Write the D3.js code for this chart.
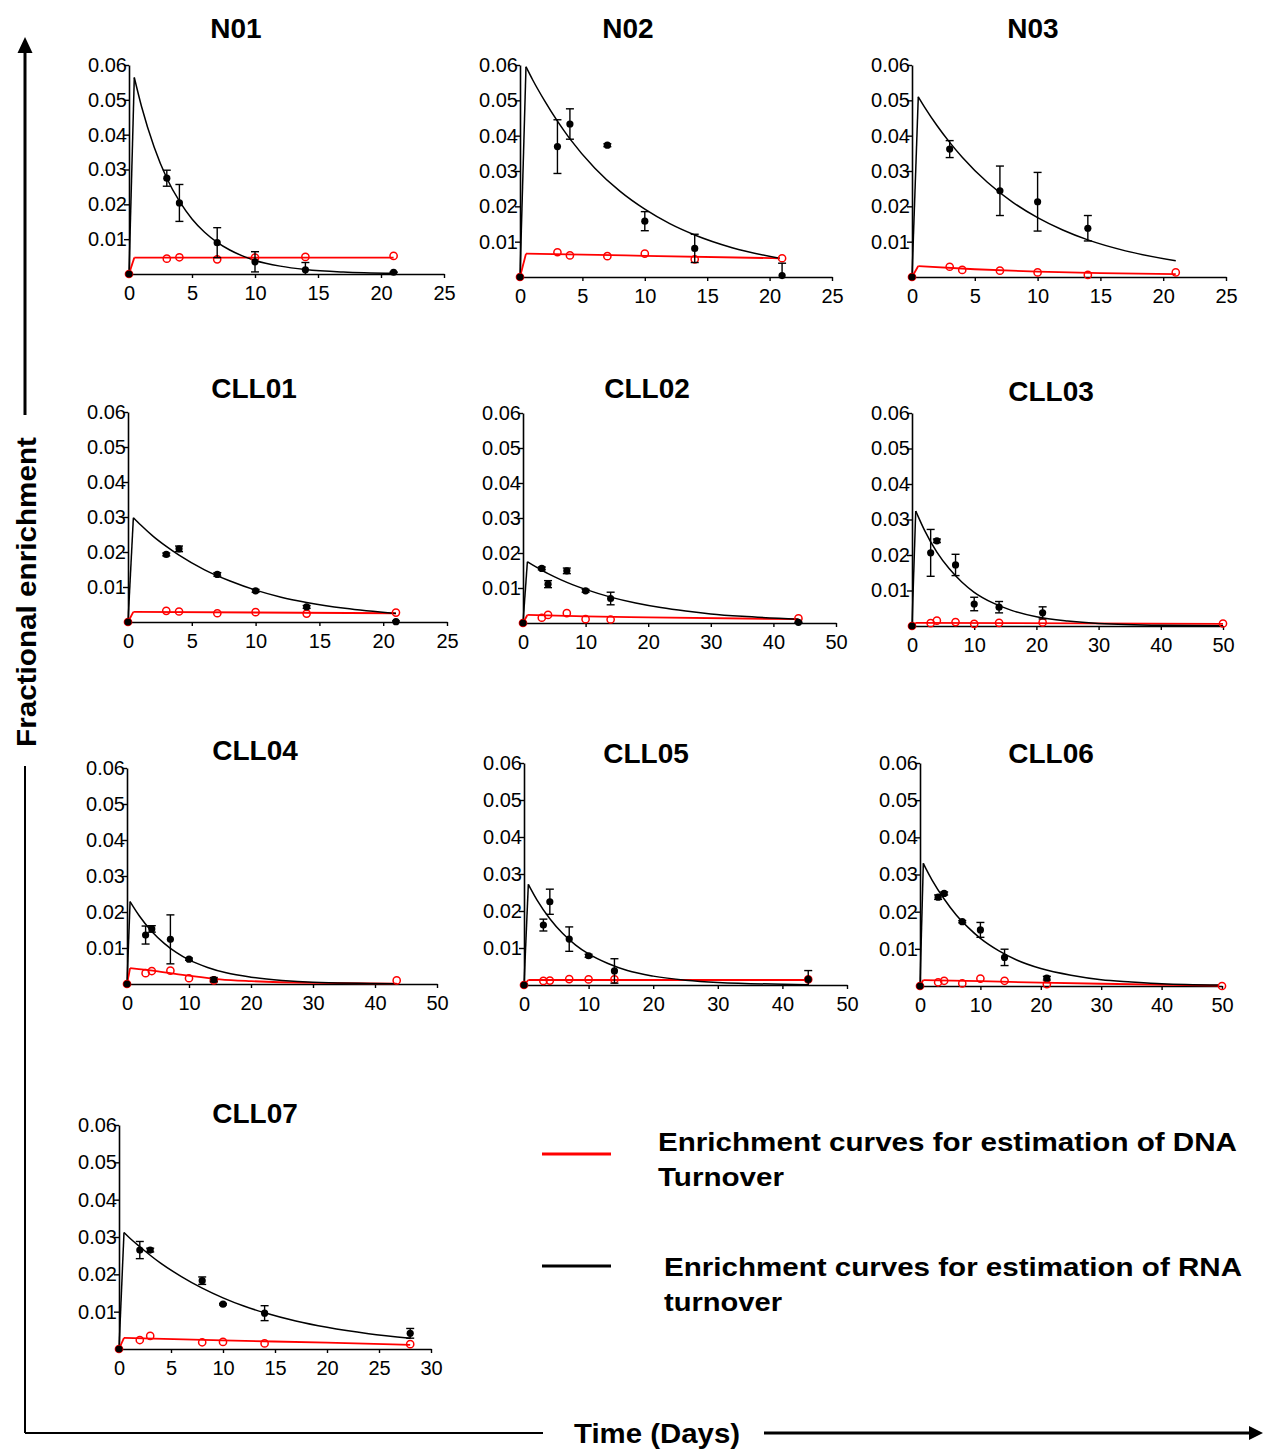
<!DOCTYPE html>
<html>
<head>
<meta charset="utf-8">
<script src="https://cdn.jsdelivr.net/npm/d3@7"></script>
<style>
  body { margin: 0; background: #fff; }
  svg { display: block; }
</style>
</head>
<body>
<svg id="chart" width="1263" height="1449"></svg>
<script>
// ---- Data: one entry per subject panel ----
const panelNames = ["N01", "N02", "N03", "CLL01", "CLL02", "CLL03", "CLL04", "CLL05", "CLL06", "CLL07"];
const xMaxima = [25, 25, 25, 25, 50, 50, 50, 50, 50, 30];
const xSteps  = [5, 5, 5, 5, 10, 10, 10, 10, 10, 5];
const yTicks = [0.01, 0.02, 0.03, 0.04, 0.05, 0.06];

// RNA (black) measured enrichment: days, mean, SD
const rnaDays = [
  [0, 3, 4, 7, 10, 14, 21],
  [0, 3, 4, 7, 10, 14, 21],
  [0, 3, 7, 10, 14],
  [0, 3, 4, 7, 10, 14, 21],
  [0, 3, 4, 7, 10, 14, 44],
  [0, 3, 4, 7, 10, 14, 21],
  [0, 3, 4, 7, 10, 14],
  [0, 3, 4, 7, 10, 14, 44],
  [0, 3, 4, 7, 10, 14, 21],
  [0, 2, 3, 8, 10, 14, 28]
];
const rnaMeans = [
  [0, 0.0275, 0.0204, 0.0090, 0.0035, 0.0012, 0.0005],
  [0, 0.0369, 0.0433, 0.0373, 0.0158, 0.0081, 0.0004],
  [0, 0.0362, 0.0244, 0.0213, 0.0138],
  [0, 0.0193, 0.0209, 0.0136, 0.0089, 0.0043, 0.0001],
  [0, 0.0156, 0.0111, 0.0149, 0.0092, 0.0070, 0.0002],
  [0, 0.0206, 0.0240, 0.0172, 0.0062, 0.0053, 0.0037],
  [0, 0.0136, 0.0153, 0.0124, 0.0069, 0.0012],
  [0, 0.0162, 0.0225, 0.0124, 0.0079, 0.0038, 0.0015],
  [0, 0.0239, 0.0249, 0.0173, 0.0151, 0.0077, 0.0021],
  [0, 0.0265, 0.0265, 0.0183, 0.0120, 0.0096, 0.0042]
];
const rnaSDs = [
  [0, 0.0023, 0.0053, 0.0043, 0.0029, 0.0021, 0.0001],
  [0, 0.0076, 0.0043, 0.0004, 0.0027, 0.0040, 0.0035],
  [0, 0.0024, 0.0070, 0.0083, 0.0036],
  [0, 0.0004, 0.0008, 0.0005, 0.0004, 0.0004, 0.0002],
  [0, 0.0004, 0.0010, 0.0008, 0.0004, 0.0018, 0.0001],
  [0, 0.0066, 0.0005, 0.0030, 0.0019, 0.0016, 0.0017],
  [0, 0.0025, 0.0009, 0.0068, 0.0003, 0.0006],
  [0, 0.0016, 0.0034, 0.0033, 0.0004, 0.0033, 0.0024],
  [0, 0.0006, 0.0004, 0.0003, 0.0020, 0.0022, 0.0005],
  [0, 0.0023, 0.0005, 0.0010, 0.0002, 0.0020, 0.0013]
];

// DNA (red) measured enrichment: days, mean
const dnaDays = [
  [0, 3, 4, 7, 10, 14, 21],
  [0, 3, 4, 7, 10, 14, 21],
  [0, 3, 4, 7, 10, 14, 21],
  [0, 3, 4, 7, 10, 14, 21],
  [0, 3, 4, 7, 10, 14, 44],
  [0, 3, 4, 7, 10, 14, 21, 50],
  [0, 3, 4, 7, 10, 14, 43.5],
  [0, 3, 4, 7, 10, 14, 44],
  [0, 3, 4, 7, 10, 14, 21, 50],
  [0, 2, 3, 8, 10, 14, 28]
];
const dnaMeans = [
  [0, 0.0044, 0.0048, 0.0042, 0.0047, 0.0049, 0.0052],
  [0, 0.0070, 0.0061, 0.0059, 0.0066, 0.0050, 0.0053],
  [0, 0.0029, 0.0020, 0.0018, 0.0013, 0.0006, 0.0013],
  [0, 0.0032, 0.0030, 0.0025, 0.0028, 0.0024, 0.0027],
  [0, 0.0015, 0.0023, 0.0028, 0.0011, 0.0010, 0.0013],
  [0, 0.0008, 0.0015, 0.0011, 0.0006, 0.0009, 0.0010, 0.0007],
  [0, 0.0030, 0.0036, 0.0037, 0.0016, 0.0010, 0.0010],
  [0, 0.0011, 0.0012, 0.0016, 0.0015, 0.0015, 0.0015],
  [0, 0.0010, 0.0014, 0.0007, 0.0020, 0.0014, 0.0005, 0.0000],
  [0, 0.0024, 0.0035, 0.0018, 0.0019, 0.0015, 0.0013]
];

// Fitted RNA enrichment curves (black): days, value
const rnaCurveDays = [
  [0, 0.42, 1, 2, 3, 4, 5, 6, 7, 8, 9, 10, 12, 14, 17, 21],
  [0, 0.48, 1, 2, 3, 4, 6, 8, 10, 12, 14, 17, 20.8],
  [0, 0.5, 1, 2, 3, 4, 6, 8, 10, 12, 14, 17, 21],
  [0, 0.42, 1, 2, 3, 4, 6, 8, 10, 12, 14, 17, 21],
  [0, 0.7, 2, 4, 6, 8, 10, 14, 18, 22, 26, 30, 35, 44],
  [0, 0.6, 1, 2, 4, 6, 8, 10, 13, 16, 20, 25, 30, 40, 50],
  [0, 0.5, 1, 2, 4, 6, 8, 10, 13, 16, 20, 25, 30, 43.5],
  [0, 0.67, 1, 2, 4, 6, 8, 10, 13, 16, 20, 25, 30, 44],
  [0, 0.55, 1, 2, 4, 6, 8, 10, 13, 16, 20, 25, 30, 35, 40, 49.5],
  [0, 0.48, 1, 2, 4, 6, 8, 10, 12, 14, 17, 20, 24, 28]
];
const rnaCurveValues = [
  [0, 0.0564, 0.0480, 0.0364, 0.0275, 0.0209, 0.0158, 0.0120, 0.0091, 0.0069, 0.0052, 0.0039, 0.00226, 0.00129, 0.00056, 0.00019],
  [0, 0.0595, 0.0559, 0.0497, 0.0441, 0.0391, 0.0308, 0.0243, 0.0192, 0.0151, 0.0119, 0.0083, 0.0053],
  [0, 0.0510, 0.0481, 0.0428, 0.0381, 0.0339, 0.0268, 0.0212, 0.0168, 0.0133, 0.0105, 0.0074, 0.0046],
  [0, 0.0298, 0.0277, 0.0244, 0.0216, 0.0191, 0.0149, 0.0117, 0.0091, 0.0071, 0.0056, 0.0039, 0.0024],
  [0, 0.0175, 0.0161, 0.0141, 0.0124, 0.0109, 0.0096, 0.0074, 0.0057, 0.0044, 0.0034, 0.0026, 0.0019, 0.0011],
  [0, 0.0324, 0.0308, 0.0270, 0.0208, 0.0161, 0.0124, 0.0095, 0.0065, 0.0044, 0.0026, 0.0014, 0.0007, 0.0002, 0.0001],
  [0, 0.0229, 0.0215, 0.0189, 0.0146, 0.0113, 0.0087, 0.0067, 0.0046, 0.0031, 0.0019, 0.0010, 0.0005, 0.0001],
  [0, 0.0272, 0.0261, 0.0230, 0.0179, 0.0139, 0.0108, 0.0084, 0.0058, 0.0039, 0.0024, 0.0013, 0.0007, 0.0001],
  [0, 0.0330, 0.0315, 0.0285, 0.0234, 0.0191, 0.0157, 0.0128, 0.0095, 0.0070, 0.0047, 0.0029, 0.0017, 0.0011, 0.0006, 0.00025],
  [0, 0.0312, 0.0298, 0.0274, 0.0230, 0.0194, 0.0163, 0.0137, 0.0115, 0.0097, 0.0075, 0.0058, 0.0041, 0.0029]
];

// Fitted DNA enrichment curves (red): days, value
const dnaCurveDays = [
  [0, 0.42, 21],
  [0, 0.48, 10, 20.8],
  [0, 0.5, 5, 10, 15, 21],
  [0, 0.42, 21],
  [0, 0.7, 10, 20, 44],
  [0, 0.6, 50],
  [0, 0.5, 5, 10, 15, 20, 30, 43.5],
  [0, 0.67, 44],
  [0, 0.55, 10, 20, 30, 49.5],
  [0, 0.48, 10, 20, 28]
];
const dnaCurveValues = [
  [0, 0.0047, 0.0047],
  [0, 0.0066, 0.0060, 0.0053],
  [0, 0.0031, 0.0022, 0.0015, 0.0011, 0.0008],
  [0, 0.0029, 0.0025],
  [0, 0.0023, 0.0019, 0.0016, 0.0011],
  [0, 0.0009, 0.0006],
  [0, 0.0044, 0.0035, 0.0023, 0.0013, 0.0008, 0.0003, 0.0001],
  [0, 0.00135, 0.00135],
  [0, 0.0016, 0.0013, 0.0009, 0.0006, 0.0001],
  [0, 0.0030, 0.0023, 0.0017, 0.0011]
];

const legendLabels = [
  ["Enrichment curves for estimation of DNA", "Turnover"],
  ["Enrichment curves for estimation of RNA", "turnover"]
];

// ---- Layout: plot frame for each panel (pixel edges) ----
const frames = [
  {left: 129, right: 444, top: 65,   bottom: 274, titleX: 236, titleY: 38},
  {left: 520, right: 832, top: 65,   bottom: 277, titleX: 628, titleY: 38},
  {left: 912, right: 1226, top: 65,  bottom: 277, titleX: 1033, titleY: 38},
  {left: 128, right: 447, top: 412,  bottom: 622, titleX: 254, titleY: 398},
  {left: 523, right: 836, top: 413,  bottom: 623, titleX: 647, titleY: 398},
  {left: 912, right: 1223, top: 413, bottom: 626, titleX: 1051, titleY: 401},
  {left: 127, right: 437, top: 768,  bottom: 984, titleX: 255, titleY: 760},
  {left: 524, right: 847, top: 763,  bottom: 985, titleX: 646, titleY: 763},
  {left: 920, right: 1222, top: 763, bottom: 986, titleX: 1051, titleY: 763},
  {left: 119, right: 431, top: 1125, bottom: 1349, titleX: 255, titleY: 1123}
];

const FONT = "'Liberation Sans', Arial, Helvetica, sans-serif";
const NARROW = "'Liberation Sans Narrow', 'Arial Narrow', 'Liberation Sans', Arial, sans-serif";
const RED = "#ff0000";

const svg = d3.select("#chart");

// Draw a fitted curve: straight rise to the peak, then a smooth decay.
function drawCurve(g, x, y, days, values, color, width) {
  const pts = days.map((d, i) => [x(d), y(values[i])]);
  let peak = 0;
  values.forEach((v, i) => { if (v > values[peak]) peak = i; });
  const rise = d3.line().curve(d3.curveLinear);
  const decay = d3.line().curve(d3.curveMonotoneX);
  g.append("path").attr("d", rise(pts.slice(0, peak + 1)))
    .attr("fill", "none").attr("stroke", color).attr("stroke-width", width);
  if (pts.length - peak > 1) {
    g.append("path").attr("d", decay(pts.slice(peak)))
      .attr("fill", "none").attr("stroke", color).attr("stroke-width", width);
  }
}

panelNames.forEach((name, p) => {
  const f = frames[p];
  const x = d3.scaleLinear().domain([0, xMaxima[p]]).range([f.left, f.right]);
  const y = d3.scaleLinear().domain([0, 0.06]).range([f.bottom, f.top]);
  const g = svg.append("g").attr("class", "panel");

  // title
  g.append("text").attr("x", f.titleX).attr("y", f.titleY)
    .attr("text-anchor", "middle").attr("font-family", FONT)
    .attr("font-weight", "bold").attr("font-size", 28).text(name);

  // axes
  const yAxis = d3.axisLeft(y).tickValues(yTicks).tickSize(5).tickSizeOuter(0)
    .tickPadding(-3).tickFormat(d3.format(".2f"));
  const xAxis = d3.axisBottom(x).tickValues(d3.range(0, xMaxima[p] + 0.001, xSteps[p]))
    .tickSize(4).tickSizeOuter(0).tickPadding(8).tickFormat(d3.format("d"));

  const ya = g.append("g").attr("transform", `translate(${f.left},0)`).call(yAxis);
  const xa = g.append("g").attr("transform", `translate(0,${f.bottom})`).call(xAxis);
  [ya, xa].forEach(a => {
    a.select(".domain").attr("stroke", "#000").attr("stroke-width", 1.6);
    a.selectAll(".tick line").attr("stroke", "#000").attr("stroke-width", 1.4);
    a.selectAll(".tick text").attr("font-family", FONT).attr("font-size", 20).attr("fill", "#000");
  });

  // fitted curves
  drawCurve(g, x, y, dnaCurveDays[p], dnaCurveValues[p], RED, 1.8);
  drawCurve(g, x, y, rnaCurveDays[p], rnaCurveValues[p], "#000", 1.5);

  // DNA open circles
  g.selectAll("circle.dna").data(dnaDays[p]).enter().append("circle")
    .attr("class", "dna")
    .attr("cx", d => x(d)).attr("cy", (d, i) => y(dnaMeans[p][i]))
    .attr("r", 3.6).attr("fill", "none").attr("stroke", RED).attr("stroke-width", 1.5);

  // RNA error bars
  const cap = 4;
  rnaDays[p].forEach((d, i) => {
    const sd = rnaSDs[p][i];
    if (sd <= 0) return;
    const m = rnaMeans[p][i];
    const cx = x(d);
    const hi = y(m + sd);
    const lo = y(Math.max(0, m - sd));
    g.append("line").attr("x1", cx).attr("x2", cx).attr("y1", hi).attr("y2", lo)
      .attr("stroke", "#000").attr("stroke-width", 1.4);
    g.append("line").attr("x1", cx - cap).attr("x2", cx + cap).attr("y1", hi).attr("y2", hi)
      .attr("stroke", "#000").attr("stroke-width", 1.4);
    if (m - sd > 0) {
      g.append("line").attr("x1", cx - cap).attr("x2", cx + cap).attr("y1", lo).attr("y2", lo)
        .attr("stroke", "#000").attr("stroke-width", 1.4);
    }
  });

  // RNA filled dots
  g.selectAll("circle.rna").data(rnaDays[p]).enter().append("circle")
    .attr("class", "rna")
    .attr("cx", d => x(d)).attr("cy", (d, i) => y(rnaMeans[p][i]))
    .attr("r", 3.6).attr("fill", "#000");
});

// ---- Legend ----
const legendRows = [
  {color: RED, lineY: 1154, textX: 658, base1: 1151, base2: 1186, w1: 579, w2: 126},
  {color: "#000", lineY: 1266, textX: 664, base1: 1276, base2: 1311, w1: 578, w2: 118}
];
legendRows.forEach((r, i) => {
  svg.append("line").attr("x1", 542).attr("x2", 611).attr("y1", r.lineY).attr("y2", r.lineY)
    .attr("stroke", r.color).attr("stroke-width", 3);
  svg.append("text").attr("x", r.textX).attr("y", r.base1)
    .attr("font-family", NARROW).attr("font-weight", "bold").attr("font-size", 26)
    .attr("textLength", r.w1).attr("lengthAdjust", "spacingAndGlyphs")
    .text(legendLabels[i][0]);
  svg.append("text").attr("x", r.textX).attr("y", r.base2)
    .attr("font-family", NARROW).attr("font-weight", "bold").attr("font-size", 26)
    .attr("textLength", r.w2).attr("lengthAdjust", "spacingAndGlyphs")
    .text(legendLabels[i][1]);
});

// ---- Overall axis arrows and titles ----
const axisG = svg.append("g");
const AX = 25, AY = 1433;
axisG.append("line").attr("x1", AX).attr("x2", AX).attr("y1", 50).attr("y2", 415)
  .attr("stroke", "#000").attr("stroke-width", 3);
axisG.append("line").attr("x1", AX).attr("x2", AX).attr("y1", 766).attr("y2", AY)
  .attr("stroke", "#000").attr("stroke-width", 2);
axisG.append("path").attr("d", `M${AX},37 L${AX - 7.5},53 L${AX + 7.5},53 Z`).attr("fill", "#000");
axisG.append("text")
  .attr("transform", `translate(36,592) rotate(-90)`)
  .attr("text-anchor", "middle").attr("font-family", NARROW)
  .attr("font-weight", "bold").attr("font-size", 27)
  .attr("textLength", 310).attr("lengthAdjust", "spacingAndGlyphs")
  .text("Fractional enrichment");

axisG.append("line").attr("x1", AX).attr("x2", 543).attr("y1", AY).attr("y2", AY)
  .attr("stroke", "#000").attr("stroke-width", 2);
axisG.append("line").attr("x1", 764).attr("x2", 1252).attr("y1", AY).attr("y2", AY)
  .attr("stroke", "#000").attr("stroke-width", 3);
axisG.append("path").attr("d", `M1263,${AY} L1249,${AY - 7} L1249,${AY + 7} Z`).attr("fill", "#000");
axisG.append("text").attr("x", 574).attr("y", 1443)
  .attr("font-family", NARROW).attr("font-weight", "bold").attr("font-size", 27)
  .attr("textLength", 166).attr("lengthAdjust", "spacingAndGlyphs")
  .text("Time (Days)");
</script>
</body>
</html>
